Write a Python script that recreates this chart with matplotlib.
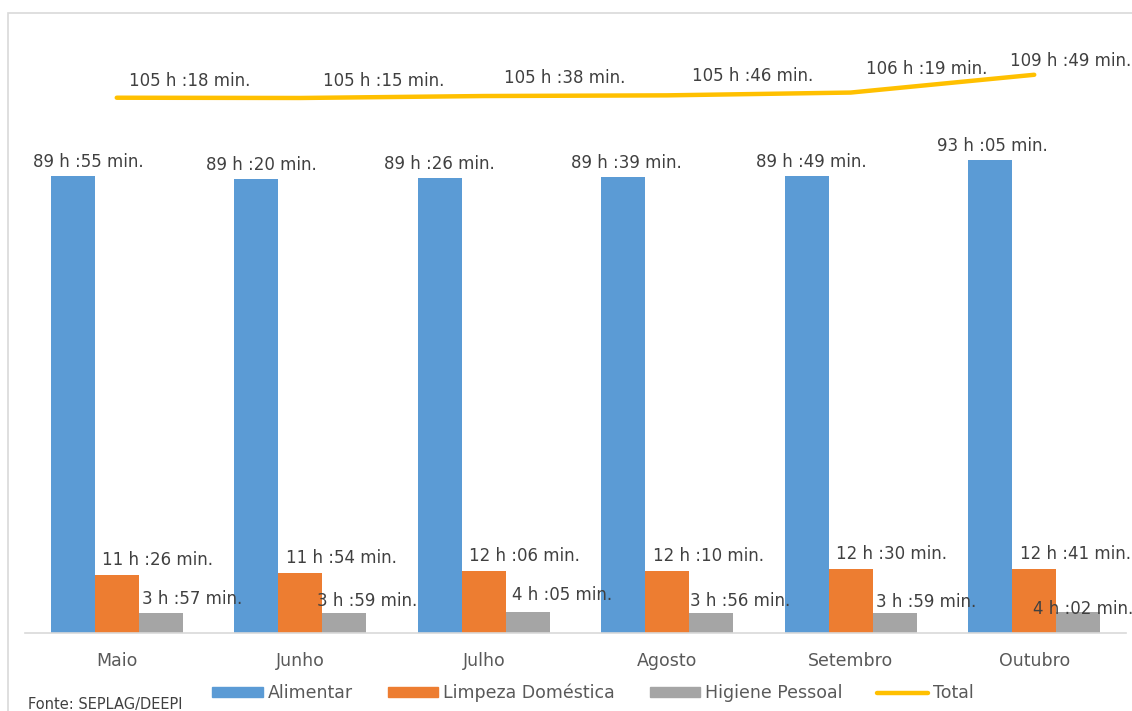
import numpy as np
import matplotlib.pyplot as plt
from matplotlib.patches import Rectangle, Patch
from matplotlib.lines import Line2D

plt.rcParams['font.family'] = ['DejaVu Sans']

# Horas consumidas por mês (h:min)
meses = ['Maio', 'Junho', 'Julho', 'Agosto', 'Setembro', 'Outubro']
alimentar = ['89:55', '89:20', '89:26', '89:39', '89:49', '93:05']
limpeza = ['11:26', '11:54', '12:06', '12:10', '12:30', '12:41']
higiene = ['3:57', '3:59', '4:05', '3:56', '3:59', '4:02']
total = ['105:18', '105:15', '105:38', '105:46', '106:19', '109:49']

series_names = ['Alimentar', 'Limpeza Doméstica', 'Higiene Pessoal', 'Total']
colors = ['#5B9BD5', '#ED7D31', '#A5A5A5', '#FFC000']
text_color = '#404040'


def to_hours(values):
    out = []
    for v in values:
        h, m = v.split(':')
        out.append(int(h) + int(m) / 60)
    return np.array(out)


def fmt(v):
    h, m = v.split(':')
    return f'{int(h)} h :{int(m):02d} min.'


# label offsets in pixels (dx, dy)
ali_dx = [16, 5, 0, 3, 5, 2]
gray_dx = [31, 23, 34, 29, 31, 5]
gray_dy = [14, 12, 17, 12, 11, 3]
total_dx = [73, 83, 81, 85, 76, 36]
total_dy = [17, 17, 18, 19, 24, 14]

fig = plt.figure(figsize=(11.32, 7.11), dpi=100)
ax = fig.add_axes([25 / 1132, 78 / 711, 1101 / 1132, 610 / 711])

x = np.arange(len(meses))
w = 0.24
ali_h = to_hours(alimentar)
lim_h = to_hours(limpeza)
hig_h = to_hours(higiene)
tot_h = to_hours(total)

ax.bar(x - w, ali_h, w, color=colors[0])
ax.bar(x, lim_h, w, color=colors[1])
ax.bar(x + w, hig_h, w, color=colors[2])
ax.plot(x, tot_h, color=colors[3], lw=3.2, solid_capstyle='round')

fs = 12
for i in range(len(meses)):
    ax.annotate(fmt(alimentar[i]), (x[i] - w, ali_h[i]), xytext=(ali_dx[i], 14),
                textcoords='offset pixels', ha='center', va='center',
                fontsize=fs, color=text_color)
    ax.annotate(fmt(limpeza[i]), (x[i], lim_h[i]), xytext=(41, 15),
                textcoords='offset pixels', ha='center', va='center',
                fontsize=fs, color=text_color)
    ax.annotate(fmt(higiene[i]), (x[i] + w, hig_h[i]), xytext=(gray_dx[i], gray_dy[i]),
                textcoords='offset pixels', ha='center', va='center',
                fontsize=fs, color=text_color)
    ax.annotate(fmt(total[i]), (x[i], tot_h[i]), xytext=(total_dx[i], total_dy[i]),
                textcoords='offset pixels', ha='center', va='center',
                fontsize=fs, color=text_color, annotation_clip=False)

ax.set_xlim(-0.5, len(meses) - 0.5)
ax.set_ylim(0, 120)
ax.set_xticks(x)
ax.set_xticklabels(meses, fontsize=12.5, color='#595959')
ax.tick_params(axis='x', length=0, pad=14)
ax.set_yticks([])
for s in ['top', 'right', 'left']:
    ax.spines[s].set_visible(False)
ax.spines['bottom'].set_color('#D9D9D9')
ax.spines['bottom'].set_linewidth(1.2)

handles = [Patch(color=colors[0]), Patch(color=colors[1]), Patch(color=colors[2]),
           Line2D([0], [0], color=colors[3], lw=3.2, solid_capstyle='round')]
fig.legend(handles, series_names, loc='center', bbox_to_anchor=(593 / 1132, 18 / 711),
           ncol=4, frameon=False, fontsize=12.5, handlelength=2.9, handleheight=0.57,
           handletextpad=0.3, columnspacing=2.0, labelcolor='#595959')

fig.text(28 / 1132, 7 / 711, 'Fonte: SEPLAG/DEEPI', fontsize=10.5, color='#404040',
         ha='left', va='center')

# moldura do gráfico
fig.patches.append(Rectangle((8 / 1132, -0.1), 1.2, (711 - 13) / 711 + 0.1,
                             transform=fig.transFigure, fill=False,
                             edgecolor='#D9D9D9', lw=1.2))

fig.savefig('out.png', dpi=100)
